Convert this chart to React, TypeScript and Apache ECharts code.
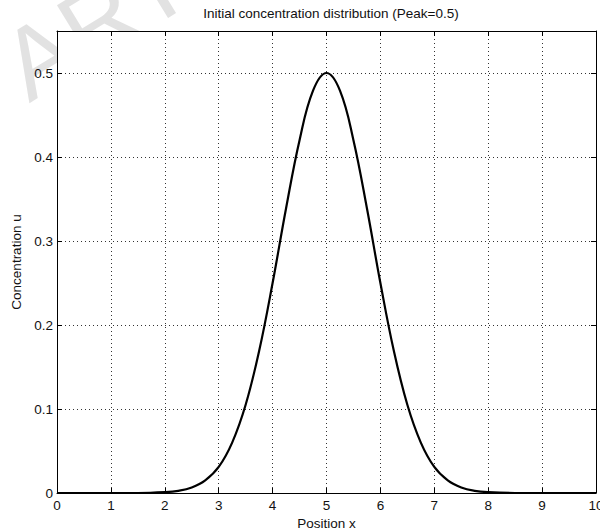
import React, { useEffect, useRef } from "react";
import * as echarts from "echarts";

const titleText = "Initial concentration distribution (Peak=0.5)";
const xLabel = "Position x";
const yLabel = "Concentration u";
const watermark = "ARTICLE IN PRESS";

const positions = [
  0, 0.5, 1, 1.5, 2, 2.25, 2.5, 2.75, 3, 3.25, 3.5, 3.75, 4, 4.25, 4.5, 4.75, 5,
  5.25, 5.5, 5.75, 6, 6.25, 6.5, 6.75, 7, 7.25, 7.5, 7.75, 8, 8.5, 9, 9.5, 10,
];
const concentration = [
  0, 0, 0, 0, 0.001, 0.0026, 0.0066, 0.015, 0.031, 0.06, 0.105, 0.169, 0.25,
  0.339, 0.42, 0.479, 0.5, 0.479, 0.42, 0.339, 0.25, 0.169, 0.105, 0.06, 0.031,
  0.015, 0.0066, 0.0026, 0.001, 0, 0, 0, 0,
];

const FONT = "Liberation Sans, Arial, sans-serif";

export default function App() {
  const ref = useRef<HTMLDivElement>(null);
  useEffect(() => {
    if (!ref.current) return;
    const chart = echarts.init(ref.current, undefined, { renderer: "svg" });
    const data = positions.map((x, i) => [x, concentration[i]]);
    const gridLine = { show: true, lineStyle: { color: "#333", type: [1, 3] as any, width: 1 } };
    chart.setOption({
      animation: false,
      backgroundColor: "#fff",
      title: {
        text: titleText,
        left: 326,
        top: 1,
        textAlign: "center",
        textStyle: { fontFamily: FONT, fontSize: 13.5, fontWeight: "normal", color: "#111" },
      },
      graphic: [
        {
          type: "text",
          x: 37,
          y: 116,
          rotation: 0.55,
          z: -10,
          silent: true,
          style: {
            text: watermark,
            fontSize: 100,
            fontFamily: FONT,
            fill: "#e2e2e2",
            verticalAlign: "bottom",
          },
        },
      ],
      grid: {
        left: 57,
        right: 4,
        top: 31,
        bottom: 38,
        show: true,
        backgroundColor: "#fff",
        borderWidth: 0,
        outerBoundsMode: "none",
        containLabel: false,
      },
      xAxis: [
        {
          type: "value",
          min: 0,
          max: 10,
          interval: 1,
          position: "bottom",
          name: xLabel,
          nameLocation: "middle",
          nameGap: 23,
          nameTextStyle: { fontFamily: FONT, fontSize: 13.5, color: "#111" },
          axisLine: { show: true, onZero: false, lineStyle: { color: "#000", width: 1 } },
          axisTick: { show: true, inside: true, length: 5, lineStyle: { color: "#000" } },
          axisLabel: { fontFamily: FONT, fontSize: 13.5, color: "#111", margin: 5 },
          splitLine: gridLine,
        },
        {
          type: "value",
          min: 0,
          max: 10,
          interval: 1,
          position: "top",
          axisLine: { show: true, onZero: false, lineStyle: { color: "#000", width: 1 } },
          axisTick: { show: true, inside: true, length: 5, lineStyle: { color: "#000" } },
          axisLabel: { show: false },
          splitLine: { show: false },
        },
      ],
      yAxis: [
        {
          type: "value",
          min: 0,
          max: 0.55,
          interval: 0.1,
          position: "left",
          name: yLabel,
          nameLocation: "middle",
          nameGap: 33,
          nameTextStyle: { fontFamily: FONT, fontSize: 13.5, color: "#111" },
          axisLine: { show: true, onZero: false, lineStyle: { color: "#000", width: 1 } },
          axisTick: { show: true, inside: true, length: 5, lineStyle: { color: "#000" } },
          axisLabel: { fontFamily: FONT, fontSize: 13.5, color: "#111", margin: 4, showMaxLabel: false },
          splitLine: gridLine,
        },
        {
          type: "value",
          min: 0,
          max: 0.55,
          interval: 0.1,
          position: "right",
          axisLine: { show: true, onZero: false, lineStyle: { color: "#000", width: 1 } },
          axisTick: { show: true, inside: true, length: 5, lineStyle: { color: "#000" } },
          axisLabel: { show: false },
          splitLine: { show: false },
        },
      ],
      series: [
        {
          type: "line",
          xAxisIndex: 0,
          yAxisIndex: 0,
          data,
          showSymbol: false,
          smooth: 0.4,
          lineStyle: { color: "#000", width: 2.2 },
          z: 5,
        },
      ],
    });
    return () => chart.dispose();
  }, []);
  return <div ref={ref} style={{ width: 600, height: 531, position: "absolute", left: 0, top: 0 }} />;
}
